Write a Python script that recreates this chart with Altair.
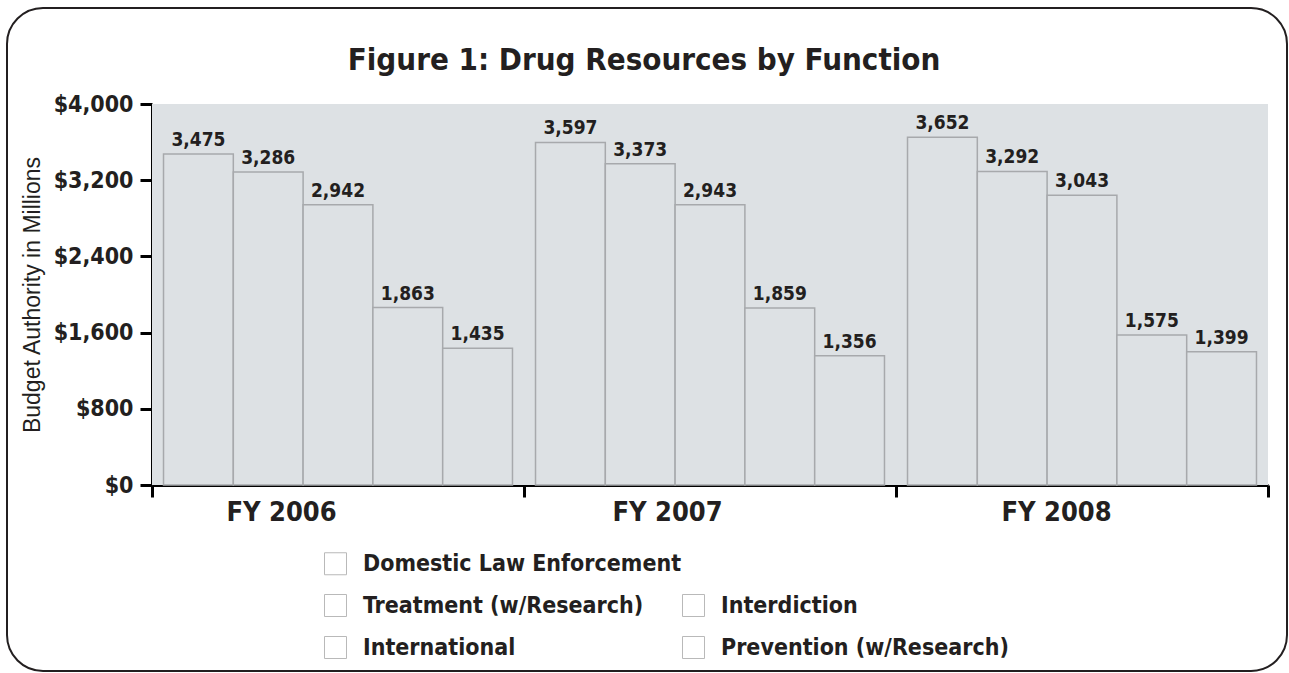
import altair as alt
import pandas as pd

# Drug control budget authority ($ millions) by function and fiscal year
years = ["FY 2006", "FY 2007", "FY 2008"]
functions = [
    "Domestic Law Enforcement",
    "Treatment (w/Research)",
    "Interdiction",
    "International",
    "Prevention (w/Research)",
]
fy2006 = [3475, 3286, 2942, 1863, 1435]
fy2007 = [3597, 3373, 2943, 1859, 1356]
fy2008 = [3652, 3292, 3043, 1575, 1399]
y_ticks = [0, 800, 1600, 2400, 3200, 4000]

rows = []
for year, vals in zip(years, [fy2006, fy2007, fy2008]):
    for fn, v in zip(functions, vals):
        rows.append({"year": year, "function": fn, "value": v})
df = pd.DataFrame(rows)

# legend columns are filled top to bottom; the second column starts with an empty slot
legend_order = [functions[0], functions[1], functions[3], " ", functions[2], functions[4]]
legend_strokes = ["#b9b9b9", "#b9b9b9", "#b9b9b9", "transparent", "#b9b9b9", "#b9b9b9"]

W, H = 1116, 381
BOLD = "Liberation Sans Narrow, DejaVu Sans Condensed, sans-serif"
REG = "Liberation Sans, Arial, sans-serif"
INK = "#231f20"
PANEL = "#dde1e4"

x_enc = alt.X(
    "year:N",
    sort=years,
    scale=alt.Scale(paddingInner=0, paddingOuter=0),
    axis=alt.Axis(
        title=None,
        tickBand="extent",
        labelAngle=0,
        labelFont=BOLD,
        labelFontWeight="bold",
        labelFontSize=27,
        labelColor=INK,
        labelPadding=2,
        labelOffset={
            "condition": [
                {"test": "datum.value == 'FY 2006'", "value": -57},
                {"test": "datum.value == 'FY 2008'", "value": -26},
            ],
            "value": -43,
        },
        domainColor="black",
        domainWidth=3,
        tickColor="black",
        tickWidth=3,
        tickSize=12,
        grid=False,
    ),
)
xo_enc = alt.XOffset(
    "function:N",
    sort=functions,
    scale=alt.Scale(paddingInner=0, paddingOuter=0.165),
)
y_enc = alt.Y(
    "value:Q",
    scale=alt.Scale(domain=[0, 4000], nice=False),
    axis=alt.Axis(
        values=y_ticks,
        format="$,.0f",
        title="Budget Authority in Millions",
        titleFont=REG,
        titleFontWeight="normal",
        titleFontSize=23,
        titleColor=INK,
        titleAngle=270,
        titleX=-120,
        titleY=H / 2,
        titleAlign="center",
        titleBaseline="middle",
        labelFont=BOLD,
        labelFontWeight="bold",
        labelFontSize=23,
        labelColor=INK,
        labelPadding=7,
        domainColor="black",
        domainWidth=3,
        tickColor="black",
        tickWidth=3,
        tickSize=12,
        grid=False,
    ),
)

# grey panel behind the bars
panel = (
    alt.Chart(alt.Data(values=[{"k": 1}]))
    .mark_rect(fill=PANEL, strokeWidth=0)
    .encode(x=alt.value(0), x2=alt.value(W), y=alt.value(0), y2=alt.value(H))
)

bars = alt.Chart(df).mark_bar(fill=PANEL, stroke="#a7a9ac", strokeWidth=1.5).encode(
    x=x_enc, xOffset=xo_enc, y=y_enc
)

labels = alt.Chart(df).mark_text(
    baseline="alphabetic",
    dy=-8,
    font=BOLD,
    fontWeight="bold",
    fontSize=19,
    color=INK,
).encode(x=x_enc, xOffset=xo_enc, y=y_enc, text=alt.Text("value:Q", format=","))

legend_layer = (
    alt.Chart(df)
    .transform_filter("false")
    .mark_square(size=484, filled=True, fill="white", strokeWidth=1, opacity=1)
    .encode(
        stroke=alt.Stroke(
            "function:N",
            scale=alt.Scale(domain=legend_order, range=legend_strokes),
            legend=alt.Legend(
                title=None,
                orient="none",
                legendX=172,
                legendY=448,
                columns=2,
                symbolType="square",
                symbolSize=484,
                symbolStrokeWidth=1,
                symbolFillColor="white",
                labelFont=BOLD,
                labelFontWeight="bold",
                labelFontSize=23,
                labelColor=INK,
                labelOffset=16,
                labelLimit=600,
                rowPadding=15,
                columnPadding=-4,
                padding=0,
            ),
        )
    )
)

frame = (
    alt.Chart(alt.Data(values=[{"k": 1}]))
    .mark_rect(cornerRadius=36, fillOpacity=0, stroke=INK, strokeWidth=2)
    .encode(
        x=alt.value(-145), x2=alt.value(1135), y=alt.value(-96), y2=alt.value(567)
    )
)

chart = (
    alt.layer(frame, panel, bars, labels, legend_layer)
    .properties(
        width=W,
        height=H,
        title=alt.Title(
            "Figure 1: Drug Resources by Function",
            font=BOLD,
            fontWeight="bold",
            fontSize=31,
            color=INK,
            anchor="middle",
            offset=-70,
            dx=-66,
        ),
        background="white",
        autosize=alt.AutoSizeParams(type="none"),
        padding={"left": 152, "top": 104, "right": 21, "bottom": 188},
    )
    .configure_view(stroke=None)
)

chart.save("out.html", embed_options={"renderer": "svg", "actions": False})
